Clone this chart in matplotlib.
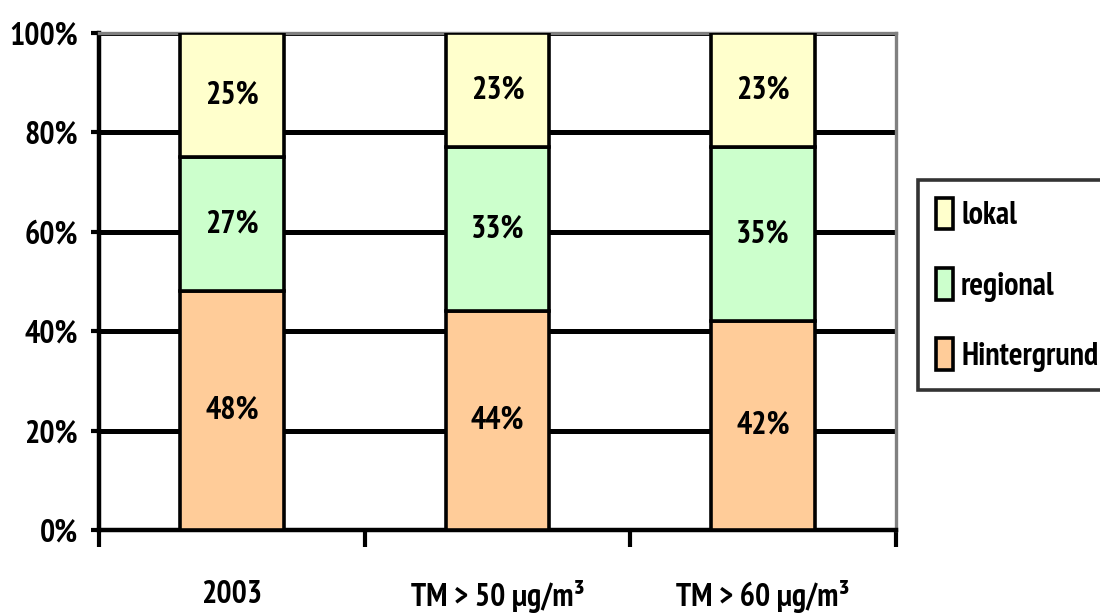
import matplotlib
matplotlib.use("Agg")
import matplotlib.pyplot as plt
import numpy as np
from matplotlib.ticker import FixedLocator, PercentFormatter

plt.rcParams['font.family'] = ['Liberation Sans Narrow', 'Arial Narrow', 'PT Sans Narrow',
                               'Roboto Condensed', 'Archivo Narrow', 'Liberation Sans',
                               'DejaVu Sans']
plt.rcParams['font.weight'] = 'bold'

categories = ["2003", "TM > 50 µg/m³", "TM > 60 µg/m³"]
hintergrund = [48, 44, 42]
regional = [27, 33, 35]
lokal = [25, 23, 23]

series = [("Hintergrund", hintergrund, "#FFCC99"),
          ("regional", regional, "#CCFFCC"),
          ("lokal", lokal, "#FFFFCC")]

fig = plt.figure(figsize=(11, 6.16), dpi=100)
ax = fig.add_axes([0.09, 0.1396, 0.7245, 0.8068])

x = np.arange(len(categories))
bottom = np.zeros(len(categories))
handles = []
for name, vals, color in series:
    vals = np.array(vals, dtype=float)
    bars = ax.bar(x, vals, width=0.39, bottom=bottom, color=color,
                  edgecolor="black", linewidth=2.6, label=name, zorder=3)
    for xi, b, v in zip(x, bottom, vals):
        ax.text(xi, b + v / 2, f"{v:.0f}%", ha="center", va="center",
                fontsize=23, fontweight="bold", zorder=4)
    handles.append(bars)
    bottom += vals

ax.set_xlim(-0.5, 2.5)
ax.set_ylim(0, 100)

# y axis: percent ticks with black gridlines behind the bars
ax.set_yticks(np.arange(0, 101, 20))
ax.yaxis.set_major_formatter(PercentFormatter(decimals=0))
ax.tick_params(axis="y", direction="out", length=6, width=3, pad=9,
               labelsize=23, colors="black")
ax.grid(axis="y", color="black", linewidth=3.6, zorder=0)
ax.set_axisbelow(True)

# x axis: boundary ticks between categories, labels centred below each bar
ax.xaxis.set_major_locator(FixedLocator([-0.5, 0.5, 1.5, 2.5]))
ax.xaxis.set_major_formatter(plt.NullFormatter())
ax.xaxis.set_minor_locator(FixedLocator(x))
ax.set_xticklabels(categories, minor=True)
ax.tick_params(axis="x", which="major", direction="out", length=12, width=3)
ax.tick_params(axis="x", which="minor", length=0, pad=36, labelsize=23)

for side in ("left", "bottom"):
    ax.spines[side].set_color("black")
    ax.spines[side].set_linewidth(3.2)
for side in ("top", "right"):
    ax.spines[side].set_color("#808080")
    ax.spines[side].set_linewidth(2.4)

leg = fig.legend(handles[::-1], [s[0] for s in series][::-1],
                 loc="upper left", bbox_to_anchor=(0.8345, 0.7078),
                 borderaxespad=0, frameon=True, fancybox=False,
                 fontsize=23, handlelength=0.55, handleheight=1.15,
                 handletextpad=0.25, labelspacing=1.15, borderpad=0.55)
leg.get_frame().set_edgecolor("black")
leg.get_frame().set_linewidth(2.6)

fig.savefig("out.png", dpi=100)
